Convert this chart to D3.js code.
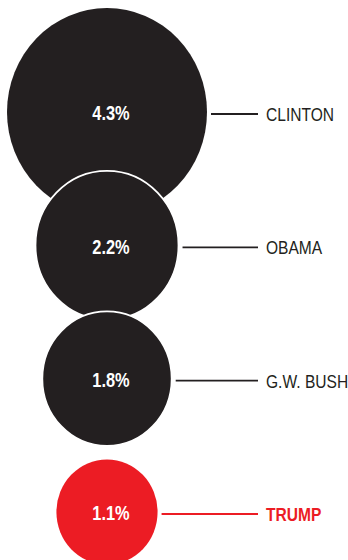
<!DOCTYPE html>
<html>
<head>
<meta charset="utf-8">
<script src="https://cdn.jsdelivr.net/npm/d3@7"></script>
<style>
html,body{margin:0;padding:0;background:#fff;}
svg{display:block;}
</style>
</head>
<body>
<svg id="chart" width="348" height="560"></svg>
<script>
const presidents = ["CLINTON", "OBAMA", "G.W. BUSH", "TRUMP"];
const growth = [4.3, 2.2, 1.8, 1.1];
const valueLabels = ["4.3%", "2.2%", "1.8%", "1.1%"];
const highlight = ["TRUMP"];

const W = 348, H = 560;
const cx = 107;
const black = "#231f20", red = "#ec1c24";
const fontFam = "'Liberation Sans', Arial, sans-serif";
const narrow = 0.82;

const data = presidents.map((p, i) => ({name: p, value: growth[i], label: valueLabels[i]}));

const r = d3.scaleSqrt().domain([0, d3.max(growth)]).range([0, 100]);
const y = d3.scalePoint().domain(presidents).range([112, 512]);
const stretch = 1.04;

const svg = d3.select("#chart");

const g = svg.selectAll("g.item").data(data).join("g").attr("class", "item");

g.append("ellipse")
  .attr("cx", cx)
  .attr("cy", d => y(d.name))
  .attr("rx", d => r(d.value))
  .attr("ry", d => r(d.value) * stretch)
  .attr("fill", d => highlight.includes(d.name) ? red : black)
  .attr("stroke", (d, i) => (i === 1 || i === 2) ? "#fff" : "none")
  .attr("stroke-width", 1.8);

g.append("text")
  .attr("transform", d => `translate(${cx + 4},${y(d.name) + 1}) scale(${narrow},1)`)
  .attr("dy", "0.36em")
  .attr("text-anchor", "middle")
  .attr("fill", "#fff")
  .attr("font-family", fontFam)
  .attr("font-weight", "bold")
  .attr("font-size", 20)
  .text(d => d.label);

g.append("line")
  .attr("x1", d => cx + r(d.value) + 4)
  .attr("x2", 258)
  .attr("y1", d => y(d.name) + 2)
  .attr("y2", d => y(d.name) + 2)
  .attr("stroke", d => highlight.includes(d.name) ? red : black)
  .attr("stroke-width", 1.8);

g.append("text")
  .attr("transform", d => `translate(266,${y(d.name) + 2}) scale(${narrow},1)`)
  .attr("dy", "0.36em")
  .attr("fill", d => highlight.includes(d.name) ? red : black)
  .attr("font-family", fontFam)
  .attr("font-weight", d => highlight.includes(d.name) ? "bold" : "normal")
  .attr("font-size", 19)
  .text(d => d.name);
</script>
</body>
</html>
